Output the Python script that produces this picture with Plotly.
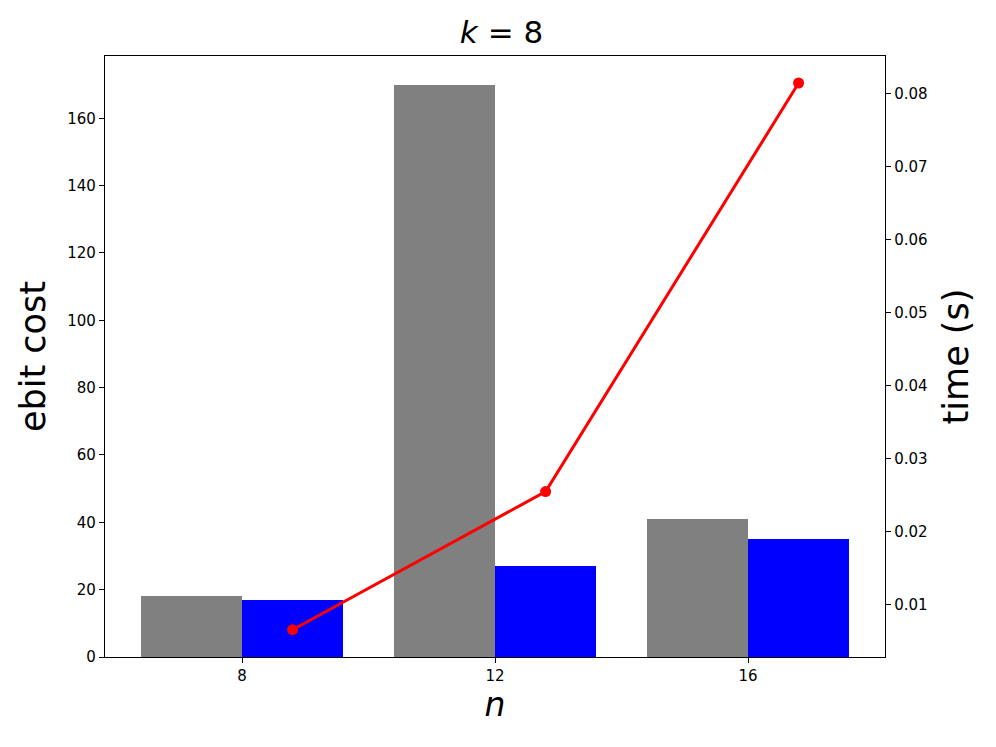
import plotly.graph_objects as go

n_values = [8, 12, 16]
ebit_gray = [18, 170, 41]
ebit_blue = [17, 27, 35]
time_s = [0.00657, 0.0255, 0.0815]

BAR_W = 1.6
FONT = "DejaVu Sans"

fig = go.Figure()
fig.add_trace(go.Bar(x=n_values, y=ebit_gray, width=BAR_W, offset=-BAR_W,
                     marker=dict(color="#808080", line=dict(width=0)), showlegend=False))
fig.add_trace(go.Bar(x=n_values, y=ebit_blue, width=BAR_W, offset=0,
                     marker=dict(color="#0000ff", line=dict(width=0)), showlegend=False))
fig.add_trace(go.Scatter(x=[v + BAR_W / 2 for v in n_values], y=time_s, yaxis="y2",
                         mode="lines+markers", line=dict(color="#ff0000", width=3),
                         marker=dict(color="#ff0000", size=11), showlegend=False))

axis_common = dict(showgrid=False, zeroline=False, showline=True, linecolor="black",
                   linewidth=1.3, ticks="outside", ticklen=5, tickwidth=1.2,
                   tickcolor="black", tickfont=dict(family=FONT, size=15, color="black"))

fig.update_layout(
    width=996, height=747,
    margin=dict(l=97, r=119, t=48, b=98),
    plot_bgcolor="white", paper_bgcolor="white",
    bargap=0,
    title=dict(text="<i>k</i> = 8", x=0.4955, xanchor="center", y=0.968, yanchor="middle",
               font=dict(family=FONT, size=31, color="black")),
    xaxis=dict(range=[5.834, 18.166], tickvals=n_values, mirror=True,
               title=dict(text="<i>n</i>", font=dict(family=FONT, size=33, color="black"),
                          standoff=6),
               **axis_common),
    yaxis=dict(range=[0, 178.5], tickvals=list(range(0, 161, 20)),
               title=dict(text="ebit cost", font=dict(family=FONT, size=35, color="black"),
                          standoff=10),
               **axis_common),
    yaxis2=dict(range=[0.00283, 0.0852], overlaying="y", side="right",
                tickvals=[0.01, 0.02, 0.03, 0.04, 0.05, 0.06, 0.07, 0.08],
                ticktext=["0.01", "0.02", "0.03", "0.04", "0.05", "0.06", "0.07", "0.08"],
                title=dict(text="time (s)", font=dict(family=FONT, size=35, color="black"),
                           standoff=16),
                **axis_common),
)

fig.write_html("out.html")
